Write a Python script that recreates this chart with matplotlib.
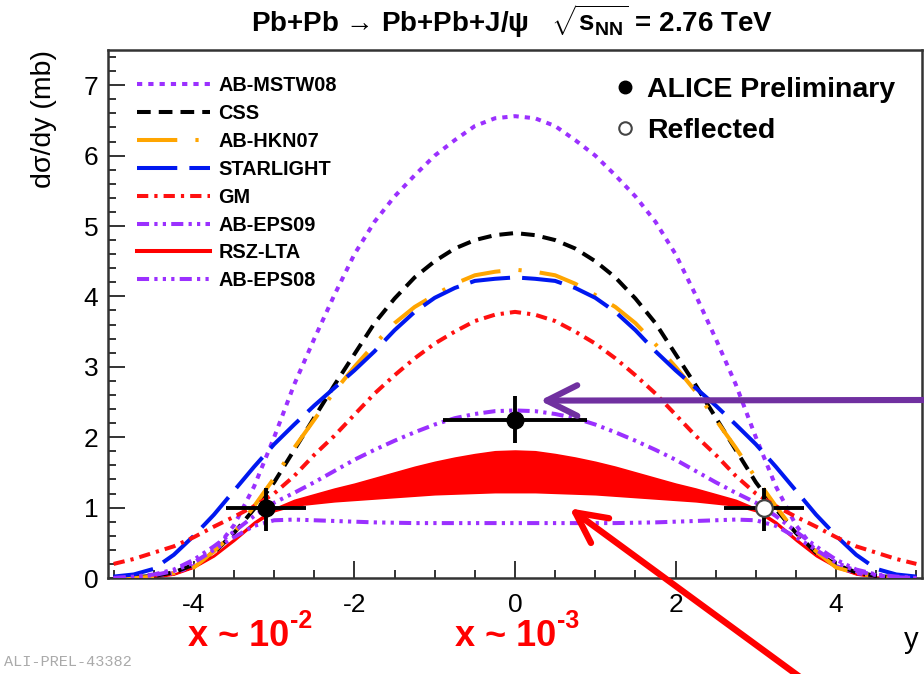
import numpy as np
import matplotlib
matplotlib.use("Agg")
import matplotlib.pyplot as plt
from matplotlib.lines import Line2D
from matplotlib.ticker import MultipleLocator

plt.rcParams['font.family'] = ['Liberation Sans', 'DejaVu Sans']
plt.rcParams['axes.unicode_minus'] = False
plt.rcParams['mathtext.fontset'] = 'custom'
plt.rcParams['mathtext.rm'] = 'Liberation Sans'
plt.rcParams['mathtext.bf'] = 'Liberation Sans:bold'
plt.rcParams['mathtext.it'] = 'Liberation Sans:italic'

# rapidity grid (y >= 0); model curves are symmetric in y
rap = [0.0, 0.25, 0.5, 0.75, 1.0, 1.25, 1.5, 1.75, 2.0, 2.25, 2.5,
       2.75, 3.0, 3.25, 3.5, 3.75, 4.0, 4.25, 4.5, 4.75, 5.0]

ab_mstw08 = [6.56, 6.53, 6.42, 6.22, 6.00, 5.72, 5.42, 5.06, 4.60, 4.02, 3.40,
             2.75, 2.00, 1.30, 0.75, 0.38, 0.17, 0.07, 0.03, 0.01, 0.00]
css = [4.90, 4.87, 4.80, 4.68, 4.50, 4.27, 3.97, 3.62, 3.18, 2.74, 2.28,
       1.82, 1.36, 0.98, 0.64, 0.36, 0.19, 0.08, 0.03, 0.01, 0.00]
ab_hkn07 = [4.38, 4.35, 4.30, 4.18, 4.02, 3.85, 3.62, 3.32, 3.00, 2.65, 2.25,
            1.85, 1.42, 1.02, 0.64, 0.38, 0.15, 0.07, 0.02, 0.00, 0.00]
starlight = [4.27, 4.25, 4.22, 4.12, 3.98, 3.78, 3.52, 3.22, 2.95, 2.70, 2.45,
             2.18, 1.90, 1.58, 1.24, 0.90, 0.60, 0.33, 0.13, 0.05, 0.02]
gm = [3.78, 3.74, 3.65, 3.50, 3.33, 3.12, 2.88, 2.62, 2.32, 2.02, 1.75,
      1.45, 1.20, 1.02, 0.87, 0.73, 0.58, 0.45, 0.36, 0.27, 0.20]
ab_eps09 = [2.38, 2.37, 2.33, 2.27, 2.18, 2.07, 1.95, 1.82, 1.68, 1.52, 1.36,
            1.21, 1.07, 0.88, 0.66, 0.45, 0.26, 0.12, 0.05, 0.02, 0.00]
ab_eps08 = [0.78, 0.78, 0.78, 0.78, 0.78, 0.78, 0.785, 0.79, 0.80, 0.81, 0.82,
            0.83, 0.82, 0.74, 0.58, 0.40, 0.22, 0.10, 0.04, 0.01, 0.00]
rsz_hi = [1.81, 1.80, 1.76, 1.71, 1.65, 1.58, 1.50, 1.42, 1.34, 1.27, 1.19,
          1.11, 0.99, 0.80, 0.56, 0.33, 0.16, 0.06, 0.02, 0.00, 0.00]
rsz_lo = [1.22, 1.22, 1.21, 1.20, 1.19, 1.17, 1.15, 1.13, 1.11, 1.09, 1.06,
          1.03, 0.95, 0.77, 0.53, 0.31, 0.15, 0.05, 0.01, 0.00, 0.00]

# ALICE data
alice_x = [-3.1, 0.0]
alice_y = [1.0, 2.25]
alice_xerr = [0.5, 0.9]
alice_yerr_lo = [0.33, 0.33]
alice_yerr_hi = [0.28, 0.34]
refl_x = [3.1]
refl_y = [1.0]


def mirror(vals):
    v = np.asarray(vals, dtype=float)
    return np.concatenate([v[::-1], v[1:]])


x = np.concatenate([-np.asarray(rap)[::-1], np.asarray(rap)[1:]])

purple = '#9B30FF'
models = [
    ("AB-MSTW08", ab_mstw08, purple, (0, (1.3, 1.5))),
    ("CSS", css, 'black', (0, (3.4, 2.0))),
    ("AB-HKN07", ab_hkn07, '#FFA500', (0, (10, 4.5, 0.8, 4.5))),
    ("STARLIGHT", starlight, '#0018F0', (0, (10, 3.0))),
    ("GM", gm, '#FF1010', (0, (2.8, 1.5, 0.8, 1.5))),
    ("AB-EPS09", ab_eps09, purple, (0, (3.0, 1.3, 0.8, 1.3, 0.8, 1.3))),
    ("RSZ-LTA", None, '#FF0000', '-'),
    ("AB-EPS08", ab_eps08, purple, (0, (3.0, 1.3, 0.8, 1.3, 0.8, 1.3, 0.8, 1.3))),
]

fig = plt.figure(figsize=(9.24, 6.74), dpi=100)
ax = fig.add_axes([108 / 924, 96 / 674, 814 / 924, 528 / 674])

ax.fill_between(x, mirror(rsz_lo), mirror(rsz_hi), color='#FF0000', lw=1.2,
                edgecolor='#FF0000', zorder=2)

handles = []
for name, vals, col, ls in models:
    if vals is None:
        handles.append(Line2D([], [], color=col, lw=2.9, ls='-', label=name))
        continue
    ln, = ax.plot(x, mirror(vals), color=col, lw=2.9, ls=ls, label=name,
                  zorder=3)
    handles.append(ln)

ax.errorbar(alice_x, alice_y, xerr=alice_xerr,
            yerr=[alice_yerr_lo, alice_yerr_hi], fmt='o', color='black',
            ms=12, elinewidth=2.8, capsize=0, zorder=5)
ax.errorbar(refl_x, refl_y, xerr=alice_xerr[:1],
            yerr=[alice_yerr_lo[:1], alice_yerr_hi[:1]], fmt='o',
            color='black', mfc='white', mec='#444444', mew=1.6,
            ms=12, elinewidth=2.8, capsize=0, zorder=5)

ax.set_xlim(-5.07, 5.07)
ax.set_ylim(0, 7.5)
ax.xaxis.set_major_locator(MultipleLocator(2))
ax.xaxis.set_minor_locator(MultipleLocator(0.5))
ax.yaxis.set_major_locator(MultipleLocator(1))
ax.yaxis.set_minor_locator(MultipleLocator(0.2))
ax.tick_params(which='both', direction='in', top=False, right=False,
               width=1.4, color='#333333', labelsize=19)
ax.tick_params(which='major', length=12)
ax.tick_params(which='minor', length=6)
ax.tick_params(axis='y', pad=7)
ax.tick_params(axis='x', pad=11)
for sp in ax.spines.values():
    sp.set_linewidth(1.8)
    sp.set_color('#333333')

leg1 = ax.legend(handles=handles, loc='upper left',
                 bbox_to_anchor=(0.0356, 0.95), frameon=False,
                 borderpad=0, borderaxespad=0, handlelength=3.7,
                 handletextpad=0.4, labelspacing=0.445,
                 prop={'size': 14.3, 'weight': 'bold'})
ax.add_artist(leg1)

h2 = [Line2D([], [], ls='none', marker='o', color='black', ms=9),
      Line2D([], [], ls='none', marker='o', mfc='white', mec='#444444',
             mew=1.5, ms=9)]
ax.legend(handles=h2, labels=["ALICE Preliminary", "Reflected"],
          loc='upper left', bbox_to_anchor=(0.619, 0.948), frameon=False,
          borderpad=0, borderaxespad=0, handlelength=0.95,
          handletextpad=0.3, labelspacing=0.5,
          prop={'size': 20.5, 'weight': 'bold'})

# arrows
ax.annotate('', xy=(0.31, 2.52), xycoords='data',
            xytext=(1.0, 1 - 400 / 674), textcoords='figure fraction',
            arrowprops=dict(arrowstyle='->, head_length=1.1, head_width=0.55',
                            color='#7030A0', lw=4.4, mutation_scale=20,
                            shrinkA=0, shrinkB=0),
            annotation_clip=False, zorder=6)
ax.annotate('', xy=(0.68, 0.99), xycoords='data',
            xytext=(805 / 924, -0.01), textcoords='figure fraction',
            arrowprops=dict(arrowstyle='->, head_length=1.1, head_width=0.55',
                            color='#FF0000', lw=4.6, mutation_scale=20,
                            shrinkA=0, shrinkB=0),
            annotation_clip=False, zorder=6)

fig.text(512 / 924, 1 - 21 / 674,
         "Pb+Pb \u2192 Pb+Pb+J/\u03c8   $\\sqrt{\\mathbf{s}_{\\mathbf{NN}}}$ = 2.76 TeV",
         ha='center', va='center', fontsize=20, fontweight='bold')
fig.text(44 / 924, 1 - 50 / 674, "dσ/dy (mb)", rotation=90,
         ha='center', va='top', fontsize=20.5)
fig.text(904 / 924, 1 - 640 / 674, "y", ha='left', va='center', fontsize=21)

# red x annotations: main text plus raised exponent
for cx, base, expo in [(289, "x ~ 10", "-2"), (556, "x ~ 10", "-3")]:
    fig.text(cx / 924, 1 - 637 / 674, base, color='#FF0000',
             ha='right', va='center', fontsize=26, fontweight='bold')
    fig.text((cx + 1) / 924, 1 - 621 / 674, expo, color='#FF0000',
             ha='left', va='center', fontsize=18, fontweight='bold')

fig.text(4 / 924, 1 - 662 / 674, "ALI-PREL-43382", color='#AAAAAA',
         family='Liberation Mono', ha='left', va='center', fontsize=11)

fig.savefig("out.png", dpi=100)
